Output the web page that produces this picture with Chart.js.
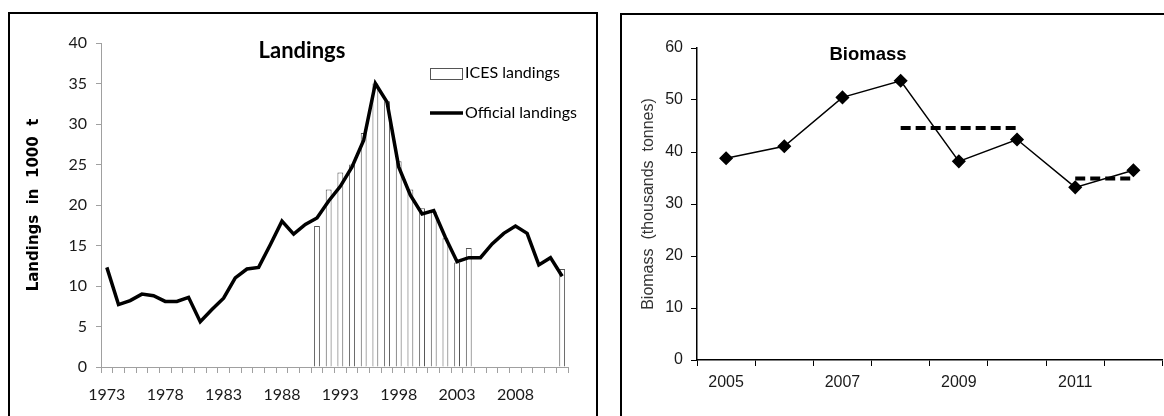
<!DOCTYPE html>
<html>
<head>
<meta charset="utf-8">
<title>Landings and Biomass</title>
<script src="https://cdn.jsdelivr.net/npm/chart.js@4.4.1/dist/chart.umd.min.js"></script>
<style>
  html, body { margin: 0; padding: 0; background: #fff; }
  body { width: 1164px; height: 416px; overflow: hidden; position: relative; }
  .frame { position: absolute; border: 2px solid #000; box-sizing: border-box; }
  canvas { position: absolute; top: 0; }
</style>
</head>
<body>
<div class="frame" style="left:8px; top:12px; width:590px; height:430px;"></div>
<div class="frame" style="left:620px; top:13px; width:600px; height:430px;"></div>
<canvas id="landings" width="600" height="416" style="left:0px;"></canvas>
<canvas id="biomass" width="570" height="416" style="left:600px;"></canvas>
<script>
// Landings data (thousand tonnes)
const years = ["1973", "1974", "1975", "1976", "1977", "1978", "1979", "1980", "1981", "1982",
  "1983", "1984", "1985", "1986", "1987", "1988", "1989", "1990", "1991", "1992",
  "1993", "1994", "1995", "1996", "1997", "1998", "1999", "2000", "2001", "2002",
  "2003", "2004", "2005", "2006", "2007", "2008", "2009", "2010", "2011", "2012"];
const officialLandings = [12.3, 7.7, 8.2, 9.0, 8.8, 8.1, 8.1, 8.6, 5.6, 7.1,
  8.5, 11.0, 12.1, 12.3, 15.1, 18.0, 16.4, 17.6, 18.4, 20.5,
  22.3, 24.7, 28.0, 35.0, 32.7, 24.7, 21.2, 18.9, 19.3, 16.0,
  13.0, 13.5, 13.5, 15.2, 16.5, 17.4, 16.5, 12.6, 13.5, 11.2];
const icesLandings = [null, null, null, null, null, null, null, null, null, null,
  null, null, null, null, null, null, null, null, 17.4, 21.9,
  24.0, 25.0, 28.9, 35.0, 32.8, 25.4, 21.9, 19.6, 19.2, 15.9,
  12.9, 14.7, null, null, null, null, null, null, null, 12.1];
const landingsLabelYears = ["1973", "1978", "1983", "1988", "1993", "1998", "2003", "2008"];

// Biomass data (thousand tonnes)
const bioYears = ["2005", "2006", "2007", "2008", "2009", "2010", "2011", "2012"];
const biomass = [38.8, 41.1, 50.5, 53.7, 38.2, 42.4, 33.2, 36.5];
const meanPeriod1 = [null, null, null, 44.6, 44.6, 44.6, null, null];
const meanPeriod2 = [null, null, null, null, null, null, 34.9, 34.9];
const bioLabelYears = ["2005", "2007", "2009", "2011"];

const calibriLike = "Lato, 'Open Sans', sans-serif";
const arialLike = "'Liberation Sans', Arial, sans-serif";

// Title + legend drawn inside the left panel
const landingsDecor = {
  id: "landingsDecor",
  afterDraw(chart) {
    const ctx = chart.ctx;
    ctx.save();
    ctx.fillStyle = "#000";
    ctx.textBaseline = "middle";
    ctx.textAlign = "center";
    ctx.font = "bold 22px " + calibriLike;
    ctx.fillText("Landings", 302, 51);

    ctx.textAlign = "left";
    ctx.font = "16px " + calibriLike;
    // bar legend
    ctx.strokeStyle = "#555";
    ctx.lineWidth = 1;
    ctx.strokeRect(430.5, 68.5, 32, 11);
    ctx.fillText("ICES landings", 465, 73);
    // line legend
    ctx.strokeStyle = "#000";
    ctx.lineWidth = 3.5;
    ctx.beginPath();
    ctx.moveTo(430, 113);
    ctx.lineTo(463, 113);
    ctx.stroke();
    ctx.fillText("Official landings", 465, 113);
    ctx.restore();
  }
};

const biomassDecor = {
  id: "biomassDecor",
  afterDraw(chart) {
    const ctx = chart.ctx;
    ctx.save();
    ctx.fillStyle = "#000";
    ctx.textBaseline = "middle";
    ctx.textAlign = "center";
    ctx.font = "bold 18.5px " + arialLike;
    ctx.fillText("Biomass", 268, 55);
    ctx.restore();
  }
};

new Chart(document.querySelector("#landings").getContext("2d"), {
  type: "bar",
  data: {
    labels: years,
    datasets: [
      {
        type: "line",
        label: "Official landings",
        data: officialLandings,
        borderColor: "#000",
        borderWidth: 3.5,
        pointRadius: 0,
        tension: 0,
        order: 0,
      },
      {
        type: "bar",
        label: "ICES landings",
        data: icesLandings,
        backgroundColor: "#fff",
        borderColor: "#555",
        borderWidth: 1,
        barPercentage: 0.5,
        categoryPercentage: 1,
        order: 1,
      },
    ],
  },
  options: {
    responsive: false,
    animation: false,
    layout: { padding: { left: 0, top: 43, right: 32, bottom: 9 } },
    plugins: { legend: { display: false }, tooltip: { enabled: false } },
    scales: {
      x: {
        afterFit: (scale) => { scale.height = 40; },
        border: { color: "#a0a0a0", width: 1 },
        grid: { drawOnChartArea: false, drawTicks: true, tickLength: 6, color: "#a0a0a0", offset: true },
        ticks: {
          autoSkip: false,
          maxRotation: 0,
          padding: 12,
          color: "#1a1a1a",
          font: { family: calibriLike, size: 16 },
          callback: function (value) {
            const y = this.getLabelForValue(value);
            return landingsLabelYears.includes(y) ? y : "";
          },
        },
      },
      y: {
        min: 0,
        max: 40,
        afterFit: (scale) => { scale.width = 101; },
        border: { color: "#a0a0a0", width: 1 },
        grid: { drawOnChartArea: false, drawTicks: true, tickLength: 5, color: "#a0a0a0" },
        ticks: {
          stepSize: 5,
          padding: 9,
          color: "#1a1a1a",
          font: { family: calibriLike, size: 16 },
        },
        title: {
          display: true,
          text: "Landings  in  1000  t",
          color: "#000",
          font: { family: "'DejaVu Sans', Verdana, sans-serif", size: 15, weight: "bold" },
          padding: { top: 25, bottom: 0 },
        },
      },
    },
  },
  plugins: [landingsDecor],
});

new Chart(document.querySelector("#biomass").getContext("2d"), {
  type: "line",
  data: {
    labels: bioYears,
    datasets: [
      {
        label: "Biomass",
        data: biomass,
        borderColor: "#000",
        borderWidth: 1.5,
        backgroundColor: "#000",
        pointStyle: "rectRot",
        pointRadius: 6,
        pointBackgroundColor: "#000",
        pointBorderColor: "#000",
        tension: 0,
      },
      {
        label: "Mean 2008-2010",
        data: meanPeriod1,
        borderColor: "#000",
        borderWidth: 4,
        borderDash: [10, 5],
        pointRadius: 0,
      },
      {
        label: "Mean 2011-2012",
        data: meanPeriod2,
        borderColor: "#000",
        borderWidth: 4,
        borderDash: [10, 5],
        pointRadius: 0,
      },
    ],
  },
  options: {
    responsive: false,
    animation: false,
    layout: { padding: { left: 0, top: 48, right: 5, bottom: 16 } },
    plugins: { legend: { display: false }, tooltip: { enabled: false } },
    scales: {
      x: {
        offset: true,
        afterFit: (scale) => { scale.height = 40; },
        border: { color: "#000", width: 1.5 },
        grid: { drawOnChartArea: false, drawTicks: true, tickLength: 6, color: "#000", offset: true },
        ticks: {
          autoSkip: false,
          maxRotation: 0,
          padding: 7,
          color: "#1a1a1a",
          font: { family: arialLike, size: 16 },
          callback: function (value) {
            const y = this.getLabelForValue(value);
            return bioLabelYears.includes(y) ? y : "";
          },
        },
      },
      y: {
        min: 0,
        max: 60,
        afterFit: (scale) => { scale.width = 97; },
        border: { color: "#000", width: 1.5 },
        grid: { drawOnChartArea: false, drawTicks: true, tickLength: 6, color: "#000" },
        ticks: {
          stepSize: 10,
          padding: 8,
          color: "#1a1a1a",
          font: { family: arialLike, size: 16 },
        },
        title: {
          display: true,
          text: "Biomass  (thousands  tonnes)",
          color: "#333",
          font: { family: arialLike, size: 16 },
          padding: { top: 39, bottom: 0 },
        },
      },
    },
  },
  plugins: [biomassDecor],
});
</script>
</body>
</html>
